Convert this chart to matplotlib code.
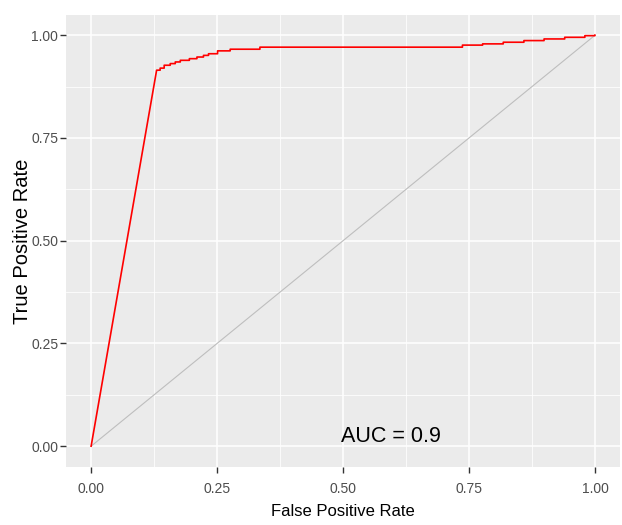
import matplotlib.pyplot as plt
from matplotlib.ticker import MultipleLocator

# ROC curve
fpr = [0.0, 0.130, 0.137, 0.145, 0.157, 0.167, 0.177, 0.195, 0.210, 0.223,
       0.233, 0.251, 0.276, 0.335, 0.696, 0.737, 0.777, 0.818, 0.859, 0.899,
       0.940, 0.980, 1.0]
tpr = [0.0, 0.915, 0.920, 0.927, 0.931, 0.935, 0.939, 0.943, 0.947, 0.951,
       0.955, 0.962, 0.966, 0.971, 0.971, 0.976, 0.979, 0.983, 0.987, 0.991,
       0.995, 0.999, 1.0]
ticks = [0.0, 0.25, 0.5, 0.75, 1.0]
tick_labels = ["0.00", "0.25", "0.50", "0.75", "1.00"]
auc_text = "AUC = 0.9"

font = ["Liberation Sans", "DejaVu Sans"]

# step the curve: horizontal then vertical between read points (after the first rise)
xs, ys = [fpr[0], fpr[1]], [tpr[0], tpr[1]]
for i in range(2, len(fpr)):
    xs += [fpr[i], fpr[i]]
    ys += [tpr[i - 1], tpr[i]]

fig = plt.figure(figsize=(6.22, 5.25), dpi=100)
ax = fig.add_axes([0.106, 0.111, 0.891, 0.861])
ax.set_facecolor("#EBEBEB")
for s in ax.spines.values():
    s.set_visible(False)

ax.set_xlim(-0.05, 1.05)
ax.set_ylim(-0.05, 1.05)
ax.set_xticks(ticks)
ax.set_yticks(ticks)
ax.set_xticklabels(tick_labels, family=font)
ax.set_yticklabels(tick_labels, family=font)
ax.xaxis.set_minor_locator(MultipleLocator(0.125))
ax.yaxis.set_minor_locator(MultipleLocator(0.125))
ax.grid(which="major", color="white", linewidth=1.1)
ax.grid(which="minor", color="white", linewidth=0.55)
ax.set_axisbelow(True)
ax.tick_params(which="major", colors="#333333", length=4, width=1,
               labelcolor="#4D4D4D", labelsize=10, pad=1.5)
ax.tick_params(axis="x", which="major", pad=7)
ax.tick_params(which="minor", length=0)

ax.plot([0, 1], [0, 1], color="#BEBEBE", linewidth=0.8)
ax.plot(xs, ys, color="red", linewidth=1.2)

ax.text(0.595, 0.024, auc_text, ha="center", va="center", fontsize=15.5,
        family=font, color="black")

ax.set_xlabel("False Positive Rate", family=font, fontsize=12, labelpad=6)
ax.set_ylabel("True Positive Rate", family=font, fontsize=14.5, va="center")
ax.yaxis.set_label_coords(-0.078, 0.499)

fig.savefig("out.png", dpi=100)
